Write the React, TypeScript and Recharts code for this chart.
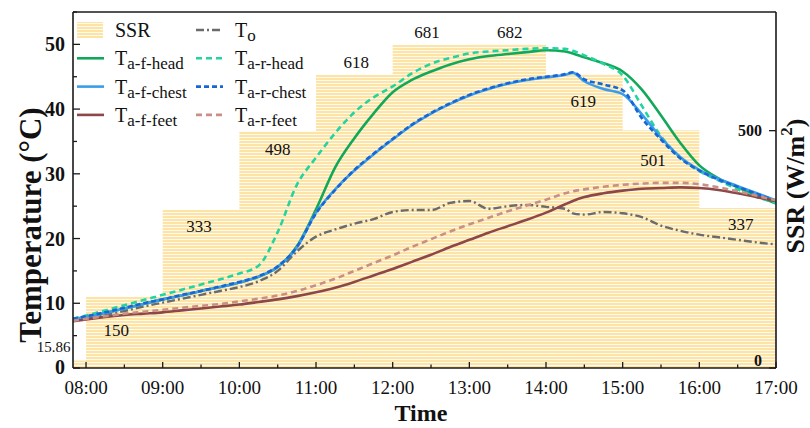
import React from "react";
import { Area, ComposedChart, Legend, Line, ReferenceLine, XAxis, YAxis } from "recharts";

const FONT = '"Liberation Serif", "Times New Roman", serif';
const INK = "#1a1a1a";

// time in decimal hours (7.83 = 07:50)
const TIME = [
  7.83, 8, 8.25, 8.5, 8.75, 9, 9.25, 9.5, 9.75, 10, 10.25, 10.5, 10.75, 11, 11.25, 11.5, 11.75, 12, 12.25,
  12.5, 12.75, 13, 13.25, 13.5, 13.75, 14, 14.25, 14.35, 14.5, 14.75, 15, 15.25, 15.5, 15.75, 16, 16.25,
  16.5, 16.75, 17,
];
const T_O = [
  7.3, 7.7, 8.2, 8.8, 9.5, 10.1, 10.7, 11.3, 11.9, 12.5, 13.4, 15.0, 18.0, 20.3, 21.4, 22.3, 23.0, 24.1, 24.4,
  24.4, 25.5, 25.8, 24.6, 25.0, 25.2, 24.9, 24.6, 23.9, 23.7, 24.1, 23.9, 23.3, 22.0, 21.2, 20.6, 20.2, 19.8,
  19.4, 19.1,
];
const F_HEAD = [
  7.5, 7.9, 8.5, 9.2, 9.9, 10.6, 11.2, 11.9, 12.5, 13.2, 14.1, 15.6, 18.8, 24.5, 31.0, 35.5, 39.3, 42.6, 44.5,
  45.8, 46.9, 47.7, 48.2, 48.5, 48.8, 49.1, 48.9, 48.6, 48.0, 47.1, 45.8, 43.0, 39.0, 34.8, 31.3, 29.3, 27.9,
  26.6, 25.4,
];
const R_HEAD = [
  7.6, 8.1, 8.9, 9.7, 10.5, 11.3, 12.1, 12.9, 13.7, 14.6, 15.8, 21.0, 28.3, 32.5, 36.3, 39.5, 41.8, 43.5, 45.5,
  47.0, 47.9, 48.6, 48.9, 49.1, 49.3, 49.4, 49.3, 49.0, 48.3, 47.0, 45.2, 40.5, 35.8, 32.6, 30.4, 29.0, 27.6,
  26.4, 25.5,
];
const F_CHEST = [
  7.5, 7.9, 8.5, 9.2, 9.9, 10.6, 11.2, 11.9, 12.5, 13.2, 14.1, 15.6, 18.6, 24.0, 27.6, 30.5, 33.0, 35.3, 37.5,
  39.3, 40.8, 42.1, 43.1, 43.9, 44.5, 44.9, 45.3, 45.6, 44.3, 43.1, 42.3, 39.2, 35.6, 32.6, 30.6, 29.2, 28.1,
  27.0, 25.9,
];
const R_CHEST = [
  7.6, 8.0, 8.6, 9.3, 10.0, 10.6, 11.3, 11.9, 12.6, 13.3, 14.2, 15.7, 18.7, 23.9, 27.5, 30.6, 33.1, 35.4, 37.6,
  39.4, 40.9, 42.2, 43.2, 44.0, 44.6, 45.0, 45.4, 45.7, 44.6, 43.8, 42.9, 38.6, 35.3, 32.4, 30.5, 29.1, 28.0,
  26.9, 25.8,
];
const F_FEET = [
  7.2, 7.5, 7.9, 8.2, 8.4, 8.6, 8.9, 9.2, 9.5, 9.8, 10.2, 10.6, 11.1, 11.7, 12.4, 13.3, 14.3, 15.3, 16.4,
  17.5, 18.7, 19.8, 20.9, 21.9, 22.9, 24.0, 25.3, 25.8, 26.4, 27.0, 27.4, 27.7, 27.8, 27.9, 27.8, 27.5, 27.0,
  26.4, 25.8,
];
const R_FEET = [
  7.3, 7.6, 8.0, 8.4, 8.7, 9.0, 9.3, 9.6, 9.9, 10.3, 10.7, 11.2, 11.9, 12.8, 13.8, 15.0, 16.2, 17.4, 18.7,
  19.9, 21.1, 22.2, 23.2, 24.2, 25.1, 26.0, 27.0, 27.3, 27.6, 28.0, 28.3, 28.5, 28.6, 28.6, 28.4, 27.9, 27.3,
  26.6, 25.9,
];

// hourly solar radiation steps (W/m2)
const SSR_TIME = [7.83, 8, 9, 10, 11, 12, 13, 14, 15, 16, 17];
const SSR = [15.86, 150, 333, 498, 618, 681, 682, 619, 501, 337, 0];

const HOUR_TICKS = [8, 8.5, 9, 9.5, 10, 10.5, 11, 11.5, 12, 12.5, 13, 13.5, 14, 14.5, 15, 15.5, 16, 16.5, 17];
const TEMP_TICKS = [0, 5, 10, 15, 20, 25, 30, 35, 40, 45, 50, 55];
const SSR_TICKS = [0, 500];

// where each bar value sits relative to the bar top
const LABEL_DX = [-9, -8, -2, 0, 2, -4, 2, -1, -8, 3];
const LABEL_DY = [-13, 34, 17, 18, -12, -12, -12, 27, 30, 16];

const rows = TIME.map((t, i) => ({
  t,
  to: T_O[i],
  fHead: F_HEAD[i],
  rHead: R_HEAD[i],
  fChest: F_CHEST[i],
  rChest: R_CHEST[i],
  fFeet: F_FEET[i],
  rFeet: R_FEET[i],
}));
const ssrRows = SSR_TIME.map((t, i) => ({ t, ssr: SSR[i] }));
const ssrLabelRows = SSR.slice(0, -1).map((v, i) => ({ t: (SSR_TIME[i] + SSR_TIME[i + 1]) / 2, ssr: v }));

const C = {
  to: "#6b6b6b",
  fHead: "#12a85a",
  rHead: "#22d49f",
  fChest: "#3b9de9",
  rChest: "#1766d6",
  fFeet: "#8c4848",
  rFeet: "#c98f86",
};

const hhmm = (v: number) => `${String(Math.floor(v)).padStart(2, "0")}:00`;

function TimeTick({ x, y, payload }: any) {
  const v = payload.value;
  const major = Number.isInteger(v);
  return (
    <g>
      <line x1={x} x2={x} y1={y} y2={y - (major ? 6 : 3.5)} stroke={INK} strokeWidth={1.3} />
      {major && (
        <text x={x} y={y + 19} textAnchor="middle" dominantBaseline="central" fontSize={19} fontFamily={FONT} fill="#111">
          {hhmm(v)}
        </text>
      )}
    </g>
  );
}

function TempTick({ x, y, payload }: any) {
  const v = payload.value;
  const major = v % 10 === 0;
  return (
    <g>
      <line x1={x} x2={x + (major ? 7 : 4)} y1={y} y2={y} stroke={INK} strokeWidth={1.3} />
      {major && (
        <text x={x - 8} y={v === 0 ? y - 1 : y} textAnchor="end" dominantBaseline="central" fontSize={20} fontWeight="bold" fontFamily={FONT} fill="#111">
          {v}
        </text>
      )}
    </g>
  );
}

function SsrTick({ x, y, payload }: any) {
  const v = payload.value;
  return (
    <g>
      <line x1={x} x2={x - 7} y1={y} y2={y} stroke={INK} strokeWidth={1.3} />
      <text x={x - 14} y={v === 0 ? y - 8 : y} textAnchor="end" dominantBaseline="central" fontSize={16} fontWeight="bold" fontFamily={FONT} fill="#111">
        {v}
      </text>
    </g>
  );
}

function SsrLabel({ x, y, value, index }: any) {
  const first = index === 0;
  return (
    <text
      x={x + LABEL_DX[index]}
      y={y + LABEL_DY[index]}
      textAnchor={first ? "end" : "middle"}
      dominantBaseline="central"
      fontSize={first ? 15 : 17}
      fontFamily={FONT}
      fill="#111"
    >
      {value}
    </text>
  );
}

function TempTitle() {
  return (
    <text x={30} y={225} transform="rotate(-90 30 225)" textAnchor="middle" dominantBaseline="central" fontSize={31} fontWeight="bold" fontFamily={FONT} fill="#111">
      Temperature (°C)
    </text>
  );
}

function SsrTitle() {
  return (
    <text x={795} y={186} transform="rotate(-90 795 186)" textAnchor="middle" dominantBaseline="central" fontSize={26} fontWeight="bold" fontFamily={FONT} fill="#111">
      <tspan>SSR (W/m</tspan>
      <tspan dy={-9} fontSize={17}>2</tspan>
      <tspan dy={9}>)</tspan>
    </text>
  );
}

function TimeTitle() {
  return (
    <text x={421} y={413} textAnchor="middle" dominantBaseline="central" fontSize={24} fontWeight="bold" fontFamily={FONT} fill="#111">
      Time
    </text>
  );
}

const LEGEND = [
  { key: "ssr", sub: "", main: "SSR", col: 0, row: 0 },
  { key: "to", sub: "o", main: "T", col: 1, row: 0 },
  { key: "fHead", sub: "a-f-head", main: "T", col: 0, row: 1 },
  { key: "rHead", sub: "a-r-head", main: "T", col: 1, row: 1 },
  { key: "fChest", sub: "a-f-chest", main: "T", col: 0, row: 2 },
  { key: "rChest", sub: "a-r-chest", main: "T", col: 1, row: 2 },
  { key: "fFeet", sub: "a-f-feet", main: "T", col: 0, row: 3 },
  { key: "rFeet", sub: "a-r-feet", main: "T", col: 1, row: 3 },
];

const DASH: Record<string, string | undefined> = {
  to: "8 3 2 3",
  rHead: "6 4",
  rChest: "5 3",
  rFeet: "6 4",
};

function LegendBox() {
  return (
    <svg width={330} height={135} style={{ display: "block" }}>
      {LEGEND.map((e) => {
        const sx = e.col === 0 ? 77 : 196;
        const tx = e.col === 0 ? 115 : 235;
        const cy = 30 + e.row * 28.3;
        return (
          <g key={e.key}>
            {e.key === "ssr" ? (
              <rect x={sx} y={cy - 8} width={26} height={16} fill="url(#ssrStripes)" />
            ) : (
              <line
                x1={sx}
                x2={sx + 27}
                y1={cy}
                y2={cy}
                stroke={(C as any)[e.key]}
                strokeWidth={2.6}
                strokeDasharray={DASH[e.key]}
              />
            )}
            <text x={tx} y={cy + 7} fontSize={20} fontFamily={FONT} fill="#111">
              {e.main}
              {e.sub && (
                <tspan dy={4} fontSize={17}>
                  {e.sub}
                </tspan>
              )}
            </text>
          </g>
        );
      })}
    </svg>
  );
}

export default function App() {
  return (
    <div style={{ position: "absolute", left: 0, top: 0, width: 810, height: 428, background: "#fff" }}>
      <ComposedChart width={810} height={428} data={rows} margin={{ top: 12, right: 0, bottom: 0, left: 0 }}>
        <defs>
          <pattern id="ssrStripes" patternUnits="userSpaceOnUse" width={6} height={3}>
            <rect x={0} y={0} width={6} height={3} fill="#fffaf0" />
            <rect x={0} y={0} width={6} height={2} fill="#fde4a4" />
          </pattern>
        </defs>
        <XAxis
          dataKey="t"
          type="number"
          domain={[7.83, 17]}
          allowDataOverflow
          ticks={HOUR_TICKS}
          interval={0}
          height={60}
          tickSize={0}
          tickMargin={0}
          tickLine={false}
          tick={<TimeTick />}
          axisLine={{ stroke: INK, strokeWidth: 1.6 }}
          label={<TimeTitle />}
        />
        <YAxis
          yAxisId="temp"
          type="number"
          domain={[0, 55]}
          allowDataOverflow
          ticks={TEMP_TICKS}
          interval={0}
          width={73}
          tickSize={0}
          tickMargin={0}
          tickLine={false}
          tick={<TempTick />}
          axisLine={{ stroke: INK, strokeWidth: 1.6 }}
          label={<TempTitle />}
        />
        <YAxis
          yAxisId="ssr"
          orientation="right"
          type="number"
          domain={[0, 750]}
          allowDataOverflow
          ticks={SSR_TICKS}
          interval={0}
          width={34}
          tickSize={0}
          tickMargin={0}
          tickLine={false}
          tick={<SsrTick />}
          axisLine={{ stroke: INK, strokeWidth: 1.6 }}
          label={<SsrTitle />}
        />
        <Area
          yAxisId="ssr"
          data={ssrRows}
          dataKey="ssr"
          type="stepAfter"
          stroke="none"
          fill="url(#ssrStripes)"
          fillOpacity={1}
          dot={false}
          activeDot={false}
          isAnimationActive={false}
        />
        <Line yAxisId="temp" dataKey="to" type="monotone" stroke={C.to} strokeWidth={2.4} strokeDasharray={DASH.to} dot={false} isAnimationActive={false} />
        <Line yAxisId="temp" dataKey="fHead" type="monotone" stroke={C.fHead} strokeWidth={2.6} dot={false} isAnimationActive={false} />
        <Line yAxisId="temp" dataKey="rHead" type="monotone" stroke={C.rHead} strokeWidth={2.6} strokeDasharray={DASH.rHead} dot={false} isAnimationActive={false} />
        <Line yAxisId="temp" dataKey="fChest" type="monotone" stroke={C.fChest} strokeWidth={2.6} dot={false} isAnimationActive={false} />
        <Line yAxisId="temp" dataKey="rChest" type="monotone" stroke={C.rChest} strokeWidth={2.6} strokeDasharray={DASH.rChest} dot={false} isAnimationActive={false} />
        <Line yAxisId="temp" dataKey="fFeet" type="monotone" stroke={C.fFeet} strokeWidth={2.6} dot={false} isAnimationActive={false} />
        <Line yAxisId="temp" dataKey="rFeet" type="monotone" stroke={C.rFeet} strokeWidth={2.6} strokeDasharray={DASH.rFeet} dot={false} isAnimationActive={false} />
        <Line
          yAxisId="ssr"
          data={ssrLabelRows}
          dataKey="ssr"
          stroke="none"
          dot={false}
          activeDot={false}
          legendType="none"
          label={<SsrLabel />}
          isAnimationActive={false}
        />
        <ReferenceLine yAxisId="temp" y={55} stroke={INK} strokeWidth={1.6} />
        <Legend
          layout="vertical"
          align="center"
          verticalAlign="middle"
          wrapperStyle={{ left: 0, top: 0, width: 330, height: 135 }}
          content={<LegendBox />}
        />
      </ComposedChart>
    </div>
  );
}
